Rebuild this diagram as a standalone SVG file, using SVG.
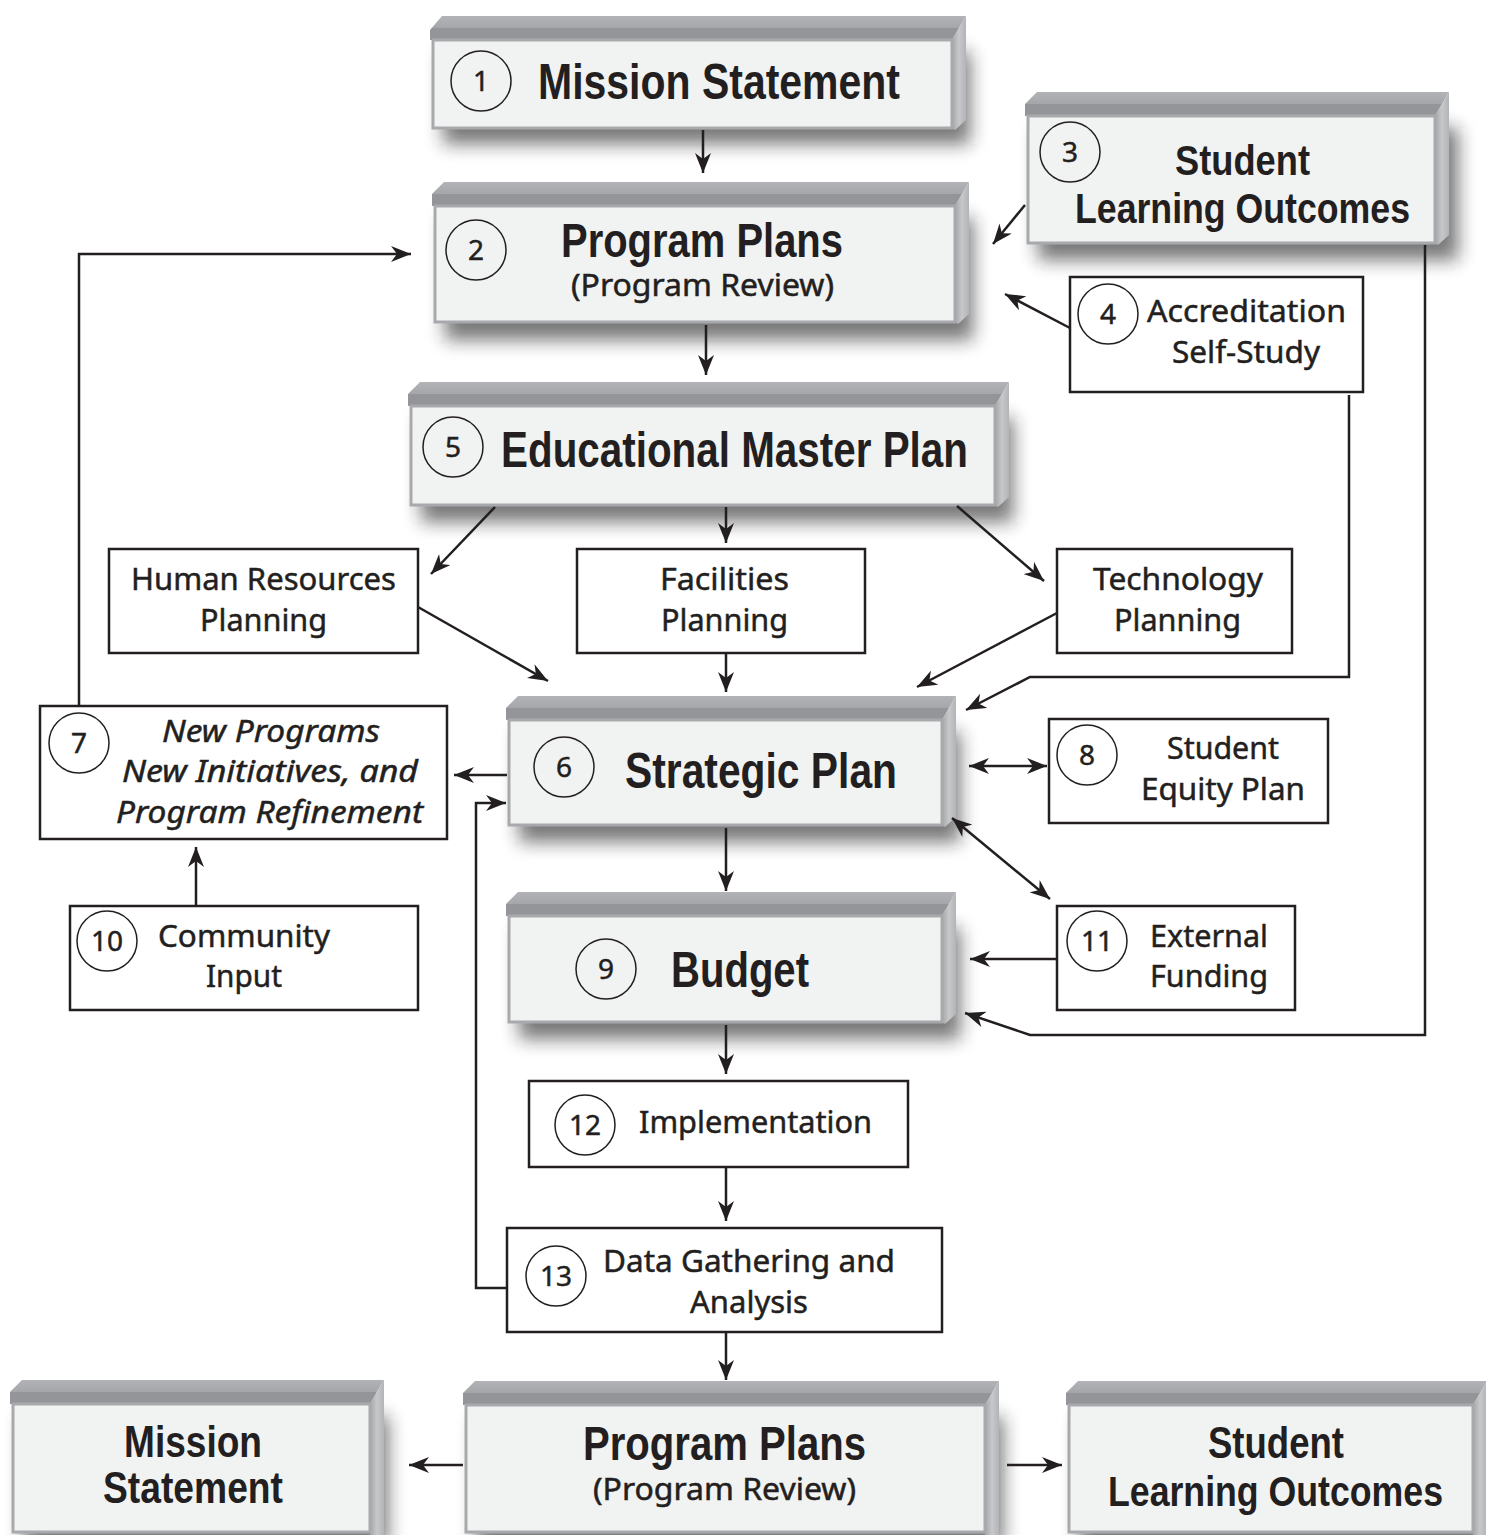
<svg xmlns="http://www.w3.org/2000/svg" width="1486" height="1535" viewBox="0 0 1486 1535">
<defs>
<linearGradient id="gTop" x1="0" y1="0" x2="0" y2="1">
<stop offset="0" stop-color="#b1b3b6"/><stop offset="0.5" stop-color="#a4a6a9"/><stop offset="0.52" stop-color="#939598"/><stop offset="1" stop-color="#939598"/>
</linearGradient>
<linearGradient id="gSide" x1="0" y1="0" x2="1" y2="0">
<stop offset="0" stop-color="#a3a5a8"/><stop offset="0.5" stop-color="#c6c8ca"/><stop offset="1" stop-color="#b2b4b7"/>
</linearGradient>
<filter id="sh" x="-20%" y="-30%" width="140%" height="170%"><feGaussianBlur stdDeviation="9"/></filter>
<marker id="ah" viewBox="0 0 20 16" refX="20" refY="8" markerWidth="20" markerHeight="16" markerUnits="userSpaceOnUse" orient="auto-start-reverse">
<path d="M0,0 L20,8 L0,16 L6,8 Z" fill="#231f20"/>
</marker>
<style>
.shadow{fill:#1a1a1a;opacity:.6;filter:url(#sh)}
.top{fill:url(#gTop)}
.side{fill:url(#gSide)}
.face{fill:#f1f2f2;stroke:#a7a9ac;stroke-width:3}
.box{fill:#ffffff;stroke:#231f20;stroke-width:2.5}
.circ{fill:none;stroke:#231f20;stroke-width:1.5}
.b{font-family:"Liberation Sans Narrow","Liberation Sans",Arial,sans-serif;font-weight:700;fill:#231f20}
.r{font-family:"Noto Sans","Open Sans","Liberation Sans",sans-serif;fill:#231f20;stroke:#231f20;stroke-width:0.5}
.i{font-family:"Noto Sans","Open Sans","Liberation Sans",sans-serif;font-style:italic;fill:#231f20;stroke:#231f20;stroke-width:0.5}
.n{font-family:"Noto Sans","Liberation Sans",sans-serif;fill:#231f20;stroke:#231f20;stroke-width:0.5;font-size:28px;text-anchor:middle}
.c{fill:none;stroke:#231f20;stroke-width:2.5}
</style>
</defs>
<rect width="1486" height="1535" fill="#ffffff"/>

<g id="node-1">
<rect class="shadow" x="443" y="52" width="527" height="92"/>
<polygon class="top" points="430,40 430,30 442,16 966,16 952,40"/>
<polygon class="side" points="952,40 966,16 966,120 955,130 952,128"/>
<rect class="face" x="433" y="40" width="519" height="88"/>
<circle class="circ" cx="481" cy="81" r="30"/>
<text class="n" x="481" y="91">1</text>
<text class="b" x="538" y="99" font-size="50" textLength="362" lengthAdjust="spacingAndGlyphs">Mission Statement</text>
</g>

<g id="node-2">
<rect class="shadow" x="445" y="218" width="528" height="122"/>
<polygon class="top" points="432,206 432,194 444,182 969,182 955,206"/>
<polygon class="side" points="955,206 969,182 969,314 958,324 955,322"/>
<rect class="face" x="435" y="206" width="520" height="116"/>
<circle class="circ" cx="476" cy="250" r="30"/>
<text class="n" x="476" y="260">2</text>
<text class="b" x="561" y="257" font-size="48" textLength="282" lengthAdjust="spacingAndGlyphs">Program Plans</text>
<text class="r" x="571" y="296" font-size="30" textLength="263" lengthAdjust="spacingAndGlyphs">(Program Review)</text>
</g>

<g id="node-3">
<rect class="shadow" x="1038" y="128" width="420" height="132"/>
<polygon class="top" points="1025,116 1025,104 1037,92 1449,92 1435,116"/>
<polygon class="side" points="1435,116 1449,92 1449,235 1438,245 1435,243"/>
<rect class="face" x="1028" y="116" width="407" height="127"/>
<circle class="circ" cx="1070" cy="152" r="30"/>
<text class="n" x="1070" y="162">3</text>
<text class="b" x="1175" y="175" font-size="42" textLength="135" lengthAdjust="spacingAndGlyphs">Student</text>
<text class="b" x="1075" y="223" font-size="42" textLength="335" lengthAdjust="spacingAndGlyphs">Learning Outcomes</text>
</g>

<g id="node-4">
<rect class="box" x="1070" y="277" width="293" height="115"/>
<circle class="circ" cx="1108" cy="314" r="30"/>
<text class="n" x="1108" y="324">4</text>
<text class="r" x="1147" y="322" font-size="31" textLength="199" lengthAdjust="spacingAndGlyphs">Accreditation</text>
<text class="r" x="1172" y="363" font-size="31" textLength="148" lengthAdjust="spacingAndGlyphs">Self-Study</text>
</g>

<g id="node-5">
<rect class="shadow" x="421" y="418" width="592" height="104"/>
<polygon class="top" points="408,406 408,394 420,382 1009,382 995,406"/>
<polygon class="side" points="995,406 1009,382 1009,497 998,507 995,505"/>
<rect class="face" x="411" y="406" width="584" height="99"/>
<circle class="circ" cx="453" cy="447" r="30"/>
<text class="n" x="453" y="457">5</text>
<text class="b" x="501" y="467" font-size="50" textLength="467" lengthAdjust="spacingAndGlyphs">Educational Master Plan</text>
</g>

<g id="node-hr">
<rect class="box" x="109" y="549" width="309" height="104"/>
<text class="r" x="131" y="590" font-size="31" textLength="265" lengthAdjust="spacingAndGlyphs">Human Resources</text>
<text class="r" x="200" y="631" font-size="31" textLength="127" lengthAdjust="spacingAndGlyphs">Planning</text>
</g>

<g id="node-fac">
<rect class="box" x="577" y="549" width="288" height="104"/>
<text class="r" x="660" y="590" font-size="31" textLength="129" lengthAdjust="spacingAndGlyphs">Facilities</text>
<text class="r" x="661" y="631" font-size="31" textLength="127" lengthAdjust="spacingAndGlyphs">Planning</text>
</g>

<g id="node-tech">
<rect class="box" x="1057" y="549" width="235" height="104"/>
<text class="r" x="1093" y="590" font-size="31" textLength="170" lengthAdjust="spacingAndGlyphs">Technology</text>
<text class="r" x="1114" y="631" font-size="31" textLength="127" lengthAdjust="spacingAndGlyphs">Planning</text>
</g>

<g id="node-6">
<rect class="shadow" x="519" y="732" width="441" height="110"/>
<polygon class="top" points="506,720 506,708 518,696 956,696 942,720"/>
<polygon class="side" points="942,720 956,696 956,817 945,827 942,825"/>
<rect class="face" x="509" y="720" width="433" height="105"/>
<circle class="circ" cx="564" cy="767" r="30"/>
<text class="n" x="564" y="777">6</text>
<text class="b" x="625" y="788" font-size="50" textLength="272" lengthAdjust="spacingAndGlyphs">Strategic Plan</text>
</g>

<g id="node-7">
<rect class="box" x="40" y="706" width="407" height="133"/>
<circle class="circ" cx="79" cy="743" r="30"/>
<text class="n" x="79" y="753">7</text>
<text class="i" x="162" y="742" font-size="31" textLength="218" lengthAdjust="spacingAndGlyphs">New Programs</text>
<text class="i" x="122" y="782" font-size="31" textLength="296" lengthAdjust="spacingAndGlyphs">New Initiatives, and</text>
<text class="i" x="116" y="823" font-size="31" textLength="307" lengthAdjust="spacingAndGlyphs">Program Refinement</text>
</g>

<g id="node-8">
<rect class="box" x="1049" y="719" width="279" height="104"/>
<circle class="circ" cx="1087" cy="755" r="30"/>
<text class="n" x="1087" y="765">8</text>
<text class="r" x="1167" y="759" font-size="31" textLength="112" lengthAdjust="spacingAndGlyphs">Student</text>
<text class="r" x="1141" y="800" font-size="31" textLength="164" lengthAdjust="spacingAndGlyphs">Equity Plan</text>
</g>

<g id="node-9">
<rect class="shadow" x="519" y="928" width="441" height="111"/>
<polygon class="top" points="506,916 506,904 518,892 956,892 942,916"/>
<polygon class="side" points="942,916 956,892 956,1014 945,1024 942,1022"/>
<rect class="face" x="509" y="916" width="433" height="106"/>
<circle class="circ" cx="606" cy="969" r="30"/>
<text class="n" x="606" y="979">9</text>
<text class="b" x="671" y="987" font-size="50" textLength="138" lengthAdjust="spacingAndGlyphs">Budget</text>
</g>

<g id="node-10">
<rect class="box" x="70" y="906" width="348" height="104"/>
<circle class="circ" cx="107" cy="941" r="30"/>
<text class="n" x="107" y="951">10</text>
<text class="r" x="158" y="947" font-size="31" textLength="172" lengthAdjust="spacingAndGlyphs">Community</text>
<text class="r" x="206" y="987" font-size="31" textLength="76" lengthAdjust="spacingAndGlyphs">Input</text>
</g>

<g id="node-11">
<rect class="box" x="1057" y="906" width="238" height="104"/>
<circle class="circ" cx="1097" cy="941" r="30"/>
<text class="n" x="1097" y="951">11</text>
<text class="r" x="1150" y="947" font-size="31" textLength="118" lengthAdjust="spacingAndGlyphs">External</text>
<text class="r" x="1150" y="987" font-size="31" textLength="118" lengthAdjust="spacingAndGlyphs">Funding</text>
</g>

<g id="node-12">
<rect class="box" x="529" y="1081" width="379" height="86"/>
<circle class="circ" cx="585" cy="1125" r="30"/>
<text class="n" x="585" y="1135">12</text>
<text class="r" x="639" y="1133" font-size="31" textLength="233" lengthAdjust="spacingAndGlyphs">Implementation</text>
</g>

<g id="node-13">
<rect class="box" x="507" y="1228" width="435" height="104"/>
<circle class="circ" cx="556" cy="1276" r="30"/>
<text class="n" x="556" y="1286">13</text>
<text class="r" x="603" y="1272" font-size="31" textLength="292" lengthAdjust="spacingAndGlyphs">Data Gathering and</text>
<text class="r" x="690" y="1313" font-size="31" textLength="118" lengthAdjust="spacingAndGlyphs">Analysis</text>
</g>

<g id="node-mission-bottom">
<rect class="shadow" x="23" y="1416" width="365" height="130"/>
<polygon class="top" points="10,1404 10,1392 22,1380 384,1380 370,1404"/>
<polygon class="side" points="370,1404 384,1380 384,1535 370,1535"/>
<rect class="face" x="13" y="1404" width="357" height="128"/>
<text class="b" x="124" y="1457" font-size="45" textLength="138" lengthAdjust="spacingAndGlyphs">Mission</text>
<text class="b" x="103" y="1503" font-size="45" textLength="180" lengthAdjust="spacingAndGlyphs">Statement</text>
</g>

<g id="node-program-bottom">
<rect class="shadow" x="476" y="1417" width="527" height="130"/>
<polygon class="top" points="463,1405 463,1393 475,1381 999,1381 985,1405"/>
<polygon class="side" points="985,1405 999,1381 999,1535 985,1535"/>
<rect class="face" x="466" y="1405" width="519" height="127"/>
<text class="b" x="583" y="1460" font-size="48" textLength="283" lengthAdjust="spacingAndGlyphs">Program Plans</text>
<text class="r" x="593" y="1500" font-size="30" textLength="263" lengthAdjust="spacingAndGlyphs">(Program Review)</text>
</g>

<g id="node-slo-bottom">
<rect class="shadow" x="1079" y="1417" width="410" height="130"/>
<polygon class="top" points="1066,1405 1066,1393 1078,1381 1487,1381 1473,1405"/>
<polygon class="side" points="1473,1405 1487,1381 1487,1535 1473,1535"/>
<rect class="face" x="1069" y="1405" width="404" height="127"/>
<text class="b" x="1208" y="1458" font-size="44" textLength="136" lengthAdjust="spacingAndGlyphs">Student</text>
<text class="b" x="1108" y="1506" font-size="43" textLength="335" lengthAdjust="spacingAndGlyphs">Learning Outcomes</text>
</g>

<g id="connectors">
<path class="c" d="M703,130 V173" marker-end="url(#ah)"/>
<path class="c" d="M706,325 V375" marker-end="url(#ah)"/>
<path class="c" d="M1025,205 L993,244" marker-end="url(#ah)"/>
<path class="c" d="M1070,328 L1005,294" marker-end="url(#ah)"/>
<path class="c" d="M79,706 V254 H411" marker-end="url(#ah)"/>
<path class="c" d="M495,507 L431,574" marker-end="url(#ah)"/>
<path class="c" d="M726,507 V543" marker-end="url(#ah)"/>
<path class="c" d="M957,506 L1044,581" marker-end="url(#ah)"/>
<path class="c" d="M418,607 L548,681" marker-end="url(#ah)"/>
<path class="c" d="M726,653 V692" marker-end="url(#ah)"/>
<path class="c" d="M1057,613 L917,687" marker-end="url(#ah)"/>
<path class="c" d="M1349,395 V677 H1030 L966,710" marker-end="url(#ah)"/>
<path class="c" d="M507,775 H454" marker-end="url(#ah)"/>
<path class="c" d="M507,1288 H476 V803 H506" marker-end="url(#ah)"/>
<path class="c" d="M969,766 H1047" marker-start="url(#ah)" marker-end="url(#ah)"/>
<path class="c" d="M952,818 L1050,899" marker-start="url(#ah)" marker-end="url(#ah)"/>
<path class="c" d="M726,828 V891" marker-end="url(#ah)"/>
<path class="c" d="M1057,959 H970" marker-end="url(#ah)"/>
<path class="c" d="M1425,245 V1035 H1030 L965,1013" marker-end="url(#ah)"/>
<path class="c" d="M196,906 V847" marker-end="url(#ah)"/>
<path class="c" d="M726,1025 V1074" marker-end="url(#ah)"/>
<path class="c" d="M726,1167 V1221" marker-end="url(#ah)"/>
<path class="c" d="M726,1332 V1380" marker-end="url(#ah)"/>
<path class="c" d="M463,1465 H409" marker-end="url(#ah)"/>
<path class="c" d="M1007,1465 H1062" marker-end="url(#ah)"/>
</g>
</svg>
